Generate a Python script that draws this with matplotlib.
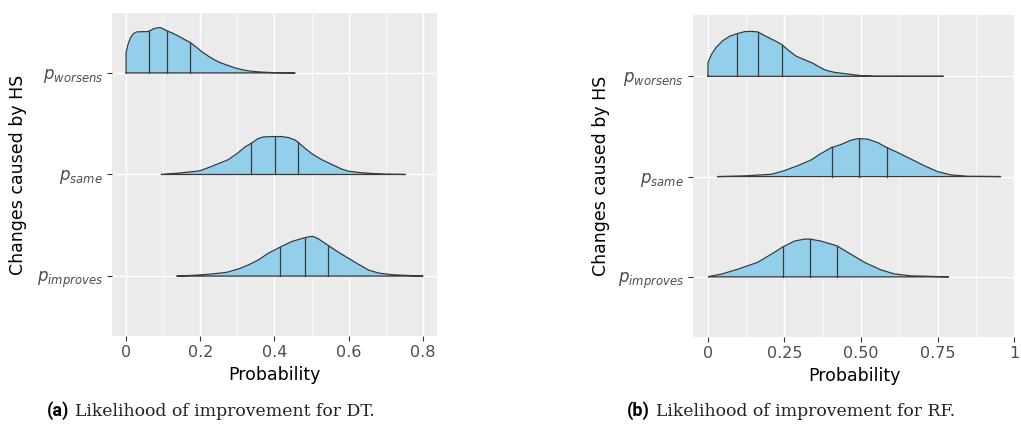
import numpy as np
import matplotlib
matplotlib.use("Agg")
from matplotlib import pyplot as plt

plt.rcParams['mathtext.fontset'] = 'dejavusans'

row_labels = [r"$p_{improves}$", r"$p_{same}$", r"$p_{worsens}$"]

# posterior densities for the decision tree model
dt_worsens_x = [0.0, 0.0, 0.0054, 0.0117, 0.0189, 0.0279, 0.0414, 0.0549, 0.0612, 0.0729, 0.0864,
                0.0954, 0.1089, 0.1224, 0.1404, 0.1584, 0.1710, 0.1854, 0.2034, 0.2214, 0.2394,
                0.2574, 0.2754, 0.2934, 0.3114, 0.3294, 0.3564, 0.3924, 0.4554]
dt_worsens_d = [0.0, 2.03, 2.87, 3.47, 3.87, 4.07, 4.10, 4.10, 4.13, 4.37, 4.50,
                4.47, 4.20, 4.00, 3.67, 3.30, 3.07, 2.67, 2.13, 1.67, 1.27,
                0.97, 0.73, 0.50, 0.33, 0.20, 0.10, 0.03, 0.0]
dt_worsens_q = [0.0612, 0.1107, 0.171]

dt_same_x = [0.0954, 0.1404, 0.1764, 0.1989, 0.2214, 0.2484, 0.2754, 0.3024, 0.3204, 0.3384,
             0.3564, 0.3699, 0.3924, 0.4194, 0.4374, 0.4554, 0.4644, 0.4824, 0.5004, 0.5274,
             0.5544, 0.5814, 0.5994, 0.6264, 0.6624, 0.6984, 0.7525]
dt_same_d = [0.0, 0.13, 0.27, 0.37, 0.67, 1.07, 1.47, 2.17, 2.73, 3.13,
             3.57, 3.73, 3.77, 3.77, 3.67, 3.43, 3.17, 2.60, 2.07, 1.47,
             1.00, 0.53, 0.33, 0.20, 0.10, 0.03, 0.0]
dt_same_q = [0.3375, 0.4014, 0.4626]

dt_improves_x = [0.1377, 0.1944, 0.2304, 0.2709, 0.3024, 0.3294, 0.3564, 0.3834, 0.4149, 0.4464,
                 0.4734, 0.4959, 0.5049, 0.5184, 0.5454, 0.5724, 0.5994, 0.6264, 0.6534, 0.6804,
                 0.7165, 0.7525, 0.8002]
dt_improves_d = [0.0, 0.10, 0.20, 0.37, 0.70, 1.10, 1.60, 2.27, 2.87, 3.43,
                 3.73, 3.93, 3.93, 3.70, 3.03, 2.37, 1.77, 1.17, 0.60, 0.30,
                 0.13, 0.07, 0.0]
dt_improves_q = [0.4149, 0.4824, 0.5454]

# posterior densities for the random forest model
rf_worsens_x = [0.0, 0.0, 0.0109, 0.0272, 0.0489, 0.0707, 0.0924, 0.1196, 0.1413, 0.1630, 0.1848,
                0.2174, 0.2413, 0.2609, 0.2880, 0.3152, 0.3424, 0.3641, 0.3859, 0.4130, 0.4565,
                0.5, 0.5435, 0.7685]
rf_worsens_d = [0.0, 1.37, 2.17, 2.93, 3.60, 4.03, 4.27, 4.50, 4.53, 4.47, 4.10,
                3.60, 3.20, 2.67, 2.03, 1.67, 1.33, 0.93, 0.60, 0.40, 0.23,
                0.07, 0.0, 0.0]
rf_worsens_q = [0.0935, 0.162, 0.2413]

rf_same_x = [0.0326, 0.1196, 0.2065, 0.25, 0.2935, 0.3370, 0.3696, 0.4043, 0.4348, 0.4674,
             0.4935, 0.5217, 0.5543, 0.5837, 0.6196, 0.6630, 0.7065, 0.75, 0.7935, 0.8478, 0.9565]
rf_same_d = [0.0, 0.07, 0.23, 0.60, 1.10, 1.67, 2.33, 2.93, 3.23, 3.67,
             3.83, 3.77, 3.43, 2.93, 2.43, 1.77, 1.10, 0.50, 0.17, 0.03, 0.0]
rf_same_q = [0.4043, 0.4935, 0.5837]

rf_improves_x = [0.0022, 0.0435, 0.0978, 0.1630, 0.2065, 0.2457, 0.2826, 0.3152, 0.3337, 0.3696,
                 0.4207, 0.4674, 0.5109, 0.5652, 0.6087, 0.6630, 0.7859]
rf_improves_d = [0.03, 0.27, 0.77, 1.47, 2.27, 3.03, 3.60, 3.80, 3.80, 3.60,
                 3.13, 2.27, 1.47, 0.70, 0.30, 0.10, 0.0]
rf_improves_q = [0.2457, 0.3337, 0.4207]

dt_ticks = [0, 0.2, 0.4, 0.6, 0.8]
dt_ticklabels = ["0", "0.2", "0.4", "0.6", "0.8"]
rf_ticks = [0, 0.25, 0.5, 0.75, 1.0]
rf_ticklabels = ["0", "0.25", "0.50", "0.75", "1"]

FILL = "#93CFEA"
EDGE = "#3a3a3a"
PANEL = "#EBEBEB"


def ridge(ax, pos, xs, ds, qs, scale):
    xs = np.asarray(xs)
    ys = pos + np.asarray(ds) * scale
    ax.fill_between(xs, pos, ys, color=FILL, lw=0, zorder=3)
    ax.plot(np.r_[xs, xs[-1], xs[0]], np.r_[ys, pos, pos],
            color=EDGE, lw=0.9, zorder=4, solid_joinstyle='round')
    for q in qs:
        top = pos + np.interp(q, xs, ds) * scale
        ax.plot([q, q], [pos, top], color=EDGE, lw=0.9, zorder=4)


def style(ax, ticks, ticklabels, xlim, ylim, ylab_x):
    ax.set_facecolor(PANEL)
    for s in ax.spines.values():
        s.set_visible(False)
    ax.set_xlim(*xlim)
    ax.set_ylim(*ylim)
    ax.set_xticks(ticks)
    ax.set_xticklabels(ticklabels)
    minors = [(a + b) / 2 for a, b in zip(ticks[:-1], ticks[1:])]
    ax.set_xticks(minors, minor=True)
    ax.set_yticks([1, 2, 3])
    ax.set_yticklabels(row_labels, fontsize=12)
    ax.grid(True, which='major', color='white', lw=1.0, zorder=0)
    ax.grid(True, which='minor', axis='x', color='white', lw=0.5, zorder=0)
    ax.set_axisbelow(True)
    ax.tick_params(which='major', length=3.5, width=0.8, color='#333333',
                   labelcolor='#4D4D4D', pad=3)
    ax.tick_params(axis='x', labelsize=11.5)
    ax.tick_params(which='minor', length=0)
    ax.set_xlabel("Probability", fontsize=12.5)
    ax.set_ylabel("Changes caused by HS", fontsize=12.5)
    ax.xaxis.set_label_coords(0.5, -0.093)
    ax.yaxis.set_label_coords(ylab_x, 0.5)


fig = plt.figure(figsize=(10.21, 4.28), dpi=100)
ax1 = fig.add_axes([0.1097, 0.215, 0.3183, 0.7547])
ax2 = fig.add_axes([0.6787, 0.2126, 0.3154, 0.752])

scale = 1 / 10.1
ridge(ax1, 3, dt_worsens_x, dt_worsens_d, dt_worsens_q, scale)
ridge(ax1, 2, dt_same_x, dt_same_d, dt_same_q, scale)
ridge(ax1, 1, dt_improves_x, dt_improves_d, dt_improves_q, scale)
style(ax1, dt_ticks, dt_ticklabels, (-0.038, 0.838), (0.41, 3.59), -0.262)

ridge(ax2, 3, rf_worsens_x, rf_worsens_d, rf_worsens_q, scale)
ridge(ax2, 2, rf_same_x, rf_same_d, rf_same_q, scale)
ridge(ax2, 1, rf_improves_x, rf_improves_d, rf_improves_q, scale)
style(ax2, rf_ticks, rf_ticklabels, (-0.049, 1.003), (0.40, 3.61), -0.258)

# sub-captions
cy = 1 - 411 / 428
fig.text(47 / 1021, cy, "(a)", family="Roboto", weight="bold", fontsize=13, va="center")
fig.text(75 / 1021, cy, "Likelihood of improvement for DT.", family="DejaVu Serif",
         fontsize=12.4, va="center", color="#222222")
fig.text(627 / 1021, cy, "(b)", family="Roboto", weight="bold", fontsize=13, va="center")
fig.text(656 / 1021, cy, "Likelihood of improvement for RF.", family="DejaVu Serif",
         fontsize=12.4, va="center", color="#222222")

fig.savefig("out.png", dpi=100)
